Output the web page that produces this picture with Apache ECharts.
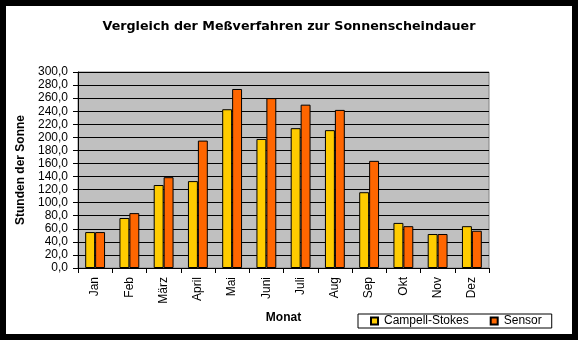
<!DOCTYPE html>
<html>
<head>
<meta charset="utf-8">
<script src="https://cdn.jsdelivr.net/npm/echarts@6/dist/echarts.min.js"></script>
<style>html,body{margin:0;padding:0;background:#000;}#c{width:578px;height:340px;}</style>
</head>
<body>
<div id="c"></div>
<script>
const months = ['Jan','Feb','März','April','Mai','Juni','Juli','Aug','Sep','Okt','Nov','Dez'];
const campbell = [55, 76.5, 127, 133, 243, 197.5, 214, 211, 116, 69, 52, 64];
const sensor = [55, 84, 139, 195, 274, 260, 250, 242, 164, 64, 52, 57];
const seriesNames = ['Campell-Stokes', 'Sensor'];
const FONT = '"Liberation Sans", Arial, sans-serif';

const chart = echarts.init(document.getElementById('c'), null, {renderer: 'canvas'});
chart.setOption({
  backgroundColor: '#000',
  animation: false,
  textStyle: {fontFamily: FONT},
  graphic: [{
    type: 'rect', z: -100, silent: true,
    shape: {x: 6, y: 6, width: 566, height: 328},
    style: {fill: '#fff'}
  }],
  title: {
    text: 'Vergleich der Meßverfahren zur Sonnenscheindauer',
    left: 'center', top: 15,
    textStyle: {fontFamily: '"DejaVu Sans", sans-serif', fontSize: 12.7, fontWeight: 'bold', color: '#000'}
  },
  legend: {
    data: seriesNames,
    left: 358, top: 314,
    orient: 'horizontal',
    padding: [1, 10, 1, 12],
    itemGap: 21, itemWidth: 7, itemHeight: 7,
    icon: 'rect',
    borderColor: '#000', borderWidth: 1, borderRadius: 0,
    backgroundColor: '#fff',
    textStyle: {fontFamily: FONT, fontSize: 12, color: '#000', padding: [0, 0, 0, 1]}
  },
  grid: {
    left: 78, top: 72, right: 89, bottom: 72,
    show: true, backgroundColor: '#c0c0c0', borderColor: '#808080', borderWidth: 1
  },
  xAxis: {
    type: 'category', data: months,
    name: 'Monat', nameLocation: 'middle', nameGap: 43,
    nameTextStyle: {fontFamily: FONT, fontSize: 12, fontWeight: 'bold', color: '#000'},
    axisLine: {lineStyle: {color: '#000', width: 1}},
    axisTick: {show: true, length: 5, lineStyle: {color: '#000'}},
    axisLabel: {rotate: 90, fontFamily: FONT, fontSize: 12, color: '#000', margin: 9}
  },
  yAxis: {
    type: 'value', min: 0, max: 300, interval: 20,
    name: 'Stunden der Sonne', nameLocation: 'middle', nameGap: 48,
    nameTextStyle: {fontFamily: FONT, fontSize: 12, fontWeight: 'bold', color: '#000'},
    axisLine: {show: true, lineStyle: {color: '#000', width: 1}},
    axisTick: {show: true, length: 5, lineStyle: {color: '#000'}},
    axisLabel: {fontFamily: FONT, fontSize: 12, color: '#000', margin: 10,
      formatter: v => v.toFixed(1).replace('.', ',')},
    splitLine: {show: true, lineStyle: {color: '#000', width: 1}}
  },
  series: [
    {name: seriesNames[0], type: 'bar', data: campbell, barGap: '0%', barCategoryGap: '42%',
     itemStyle: {color: '#ffcc00', borderColor: '#000', borderWidth: 1}},
    {name: seriesNames[1], type: 'bar', data: sensor, barGap: '0%', barCategoryGap: '42%',
     itemStyle: {color: '#ff6600', borderColor: '#000', borderWidth: 1}}
  ]
});
</script>
</body>
</html>
